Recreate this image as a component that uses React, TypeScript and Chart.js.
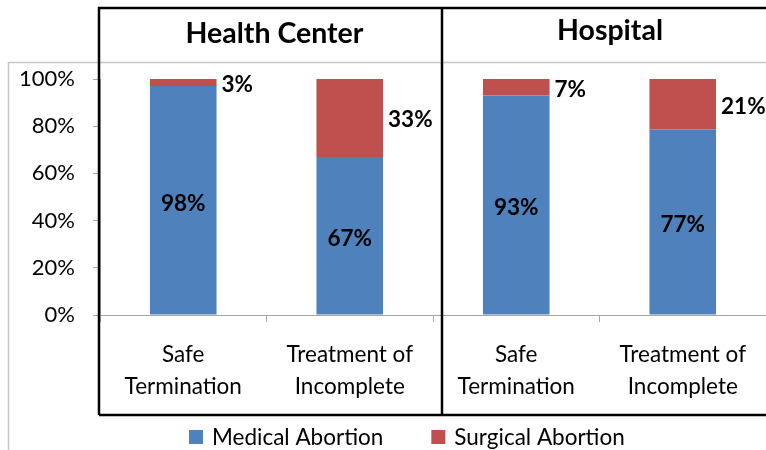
import React, { useEffect, useRef } from 'react';
import { Chart, registerables } from 'chart.js';

Chart.register(...registerables);

const categories: string[][] = [
  ['Safe', 'Termination'],
  ['Treatment of', 'Incomplete'],
  ['Safe', 'Termination'],
  ['Treatment of', 'Incomplete'],
];
const groupTitles = ['Health Center', 'Hospital'];
const seriesNames = ['Medical Abortion', 'Surgical Abortion'];
const medicalValues = [98, 67, 93, 77];
const surgicalValues = [3, 33, 7, 21];
const yTickStep = 20;
const yMax = 100;
const seriesColors = ['#4F81BD', '#C0504D'];

const FONT = 'Lato, "Open Sans", sans-serif';

const totals = medicalValues.map((v, i) => v + surgicalValues[i]);
const medicalShare = medicalValues.map((v, i) => (v / totals[i]) * 100);
const surgicalShare = surgicalValues.map((v, i) => (v / totals[i]) * 100);
const rawValues = [medicalValues, surgicalValues];

const decorPlugin = {
  id: 'decor',
  beforeDraw(chart: any) {
    const ctx = chart.ctx;
    ctx.save();
    ctx.fillStyle = '#ffffff';
    ctx.fillRect(0, 0, chart.width, chart.height);
    // outer chart border (gray)
    ctx.strokeStyle = '#C8C8C8';
    ctx.lineWidth = 1.5;
    ctx.beginPath();
    ctx.moveTo(8.5, chart.height);
    ctx.lineTo(8.5, 62.5);
    ctx.lineTo(chart.width, 62.5);
    ctx.stroke();
    ctx.restore();
  },
  afterDraw(chart: any) {
    const ctx = chart.ctx;
    const area = chart.chartArea;
    const xs = chart.scales.x;
    ctx.save();

    // data labels
    ctx.fillStyle = '#000000';
    ctx.font = `bold 22.5px ${FONT}`;
    ctx.textBaseline = 'middle';
    chart.data.datasets.forEach((ds: any, di: number) => {
      const meta = chart.getDatasetMeta(di);
      meta.data.forEach((el: any, i: number) => {
        const props = el.getProps(['x', 'y', 'base', 'width'], true);
        const cy = (props.y + props.base) / 2;
        const text = rawValues[di][i] + '%';
        if (di === 0) {
          ctx.textAlign = 'center';
          ctx.fillText(text, props.x, cy + 3);
        } else {
          ctx.textAlign = 'left';
          ctx.fillText(text, props.x + props.width / 2 + 5, cy + 2);
        }
      });
    });

    // group boxes
    const left = area.left - 1;
    const divider = (xs.getPixelForValue(1) + xs.getPixelForValue(2)) / 2 + 9;
    const right = chart.width + 4;
    const top = 8;
    const bottom = 415;
    ctx.strokeStyle = '#000000';
    ctx.lineWidth = 2.5;
    ctx.beginPath();
    ctx.moveTo(left, bottom);
    ctx.lineTo(left, top);
    ctx.lineTo(right, top);
    ctx.moveTo(left, bottom);
    ctx.lineTo(right, bottom);
    ctx.moveTo(divider, top);
    ctx.lineTo(divider, bottom);
    ctx.stroke();

    // group titles
    ctx.font = `bold 28.5px ${FONT}`;
    ctx.textAlign = 'center';
    ctx.textBaseline = 'middle';
    ctx.fillText(groupTitles[0], (left + divider) / 2 + 4, 34);
    ctx.fillText(groupTitles[1], (divider + chart.width) / 2 + 6, 31);

    // legend
    ctx.font = `22.5px ${FONT}`;
    ctx.textAlign = 'left';
    let lx = 189;
    const ly = 438;
    chart.data.datasets.forEach((ds: any) => {
      ctx.fillStyle = ds.backgroundColor;
      ctx.fillRect(lx, ly - 8, 14, 14);
      ctx.fillStyle = '#000000';
      ctx.fillText(ds.label, lx + 23, ly);
      lx += 23 + ctx.measureText(ds.label).width + 48;
    });

    ctx.restore();
  },
};

export default function App() {
  const canvasRef = useRef<HTMLCanvasElement | null>(null);

  useEffect(() => {
    document.body.style.margin = '0';
    const canvas = canvasRef.current;
    if (!canvas) return;
    const chart = new Chart(canvas, {
      type: 'bar',
      data: {
        labels: categories,
        datasets: [
          {
            label: seriesNames[0],
            data: medicalShare,
            backgroundColor: seriesColors[0],
            barPercentage: 0.4,
            categoryPercentage: 1,
          },
          {
            label: seriesNames[1],
            data: surgicalShare,
            backgroundColor: seriesColors[1],
            barPercentage: 0.4,
            categoryPercentage: 1,
          },
        ],
      },
      options: {
        responsive: false,
        animation: false,
        devicePixelRatio: 1,
        layout: { padding: { top: 79, bottom: 35, left: 0, right: 0 } },
        plugins: {
          legend: { display: false },
          tooltip: { enabled: false },
          title: { display: false },
        },
        scales: {
          x: {
            stacked: true,
            afterFit: (s: any) => {
              s.height = 100;
            },
            grid: {
              display: true,
              drawOnChartArea: false,
              drawTicks: true,
              tickLength: 7,
              tickColor: '#A6A6A6',
              offset: true,
            },
            border: { display: true, color: '#A6A6A6', width: 1 },
            ticks: {
              color: '#000000',
              font: { family: FONT, size: 22.5, lineHeight: 1.42 },
              padding: 17,
              maxRotation: 0,
              autoSkip: false,
            },
          },
          y: {
            stacked: true,
            min: 0,
            max: yMax,
            afterFit: (s: any) => {
              s.width = 100;
            },
            grid: {
              display: true,
              drawOnChartArea: false,
              drawTicks: true,
              tickLength: 7,
              tickColor: '#A6A6A6',
            },
            border: { display: true, color: '#A6A6A6', width: 1 },
            ticks: {
              stepSize: yTickStep,
              color: '#000000',
              font: { family: FONT, size: 22 },
              padding: 18,
              callback: (v: any) => v + '%',
            },
          },
        },
      },
      plugins: [decorPlugin],
    });
    return () => chart.destroy();
  }, []);

  return (
    <div style={{ width: 766, height: 450, position: 'relative', overflow: 'hidden', background: '#fff' }}>
      <canvas ref={canvasRef} width={766} height={450} style={{ display: 'block', width: 766, height: 450 }} />
    </div>
  );
}
